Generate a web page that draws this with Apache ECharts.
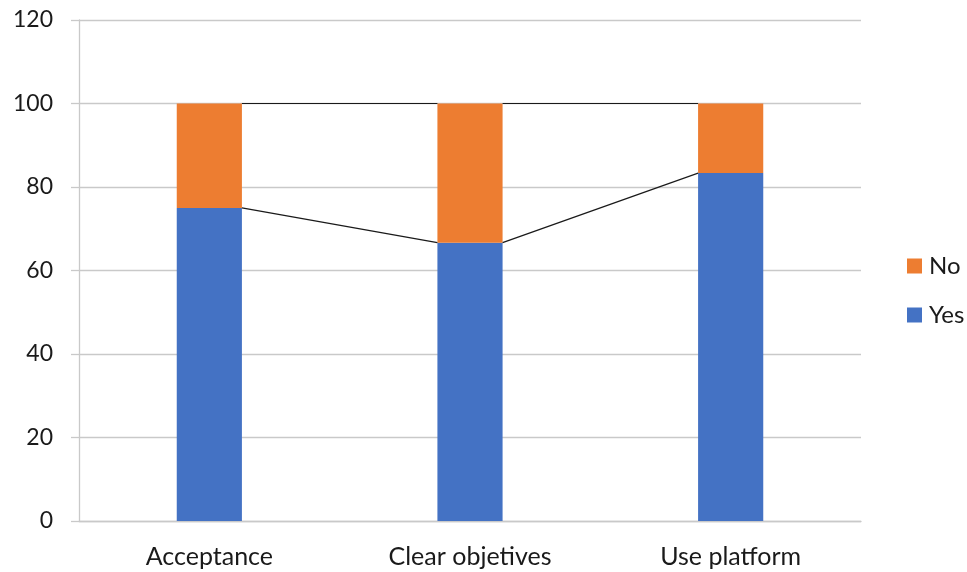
<!DOCTYPE html>
<html>
<head>
<meta charset="utf-8">
<script src="https://cdn.jsdelivr.net/npm/echarts@6/dist/echarts.min.js"></script>
<style>
  html, body { margin: 0; padding: 0; background: #ffffff; }
  #chart { width: 967px; height: 572px; }
</style>
</head>
<body>
<div id="chart"></div>
<script>
const categories = ['Acceptance', 'Clear objetives', 'Use platform'];
const yesValues = [75, 66.67, 83.33];
const noValues = [25, 33.33, 16.67];
const yTicks = [0, 20, 40, 60, 80, 100, 120];

const FONT = 'Lato';
const TEXT = '#1a1a1a';
const GRID = '#c9c9c9';
const BAR_FRACTION = 0.25;

// Stack tops for the connector lines between neighbouring bars
const yesTops = yesValues.slice();
const totalTops = yesValues.map((v, i) => v + noValues[i]);

function connectorData(tops) {
  const out = [];
  for (let i = 0; i < tops.length - 1; i++) out.push([i, tops[i], tops[i + 1]]);
  return out;
}

function renderConnector(params, api) {
  const i = api.value(0);
  const band = api.size([1, 0])[0];
  const half = band * BAR_FRACTION / 2;
  const p0 = api.coord([i, api.value(1)]);
  const p1 = api.coord([i + 1, api.value(2)]);
  return {
    type: 'line',
    shape: { x1: p0[0] + half, y1: p0[1], x2: p1[0] - half, y2: p1[1] },
    style: { stroke: '#1a1a1a', lineWidth: 1.2 }
  };
}

const chart = echarts.init(document.getElementById('chart'), null, { renderer: 'canvas' });
chart.setOption({
  animation: false,
  textStyle: { fontFamily: FONT },
  grid: { left: 79, right: 106, top: 20, bottom: 51, containLabel: false },
  legend: {
    data: ['No', 'Yes'],
    orient: 'vertical',
    left: 902,
    top: 249,
    itemWidth: 15,
    itemHeight: 15,
    itemGap: 25,
    icon: 'rect',
    textStyle: { fontFamily: FONT, fontSize: 24, color: TEXT, padding: [0, 0, 0, 2] }
  },
  xAxis: {
    type: 'category',
    data: categories,
    axisLine: { lineStyle: { color: GRID, width: 1.3 } },
    axisTick: { show: false },
    axisLabel: { fontFamily: FONT, fontSize: 25, color: TEXT, margin: 23 }
  },
  yAxis: {
    type: 'value',
    min: yTicks[0],
    max: yTicks[yTicks.length - 1],
    interval: 20,
    axisLine: { show: true, lineStyle: { color: GRID, width: 1.3 } },
    axisTick: { show: true, length: 8, lineStyle: { color: GRID, width: 1.3 } },
    axisLabel: { fontFamily: FONT, fontSize: 23, color: TEXT, margin: 26 },
    splitLine: { lineStyle: { color: GRID, width: 1.3 } }
  },
  series: [
    {
      name: 'Yes',
      type: 'bar',
      stack: 'total',
      barWidth: (BAR_FRACTION * 100) + '%',
      itemStyle: { color: '#4472C4' },
      data: yesValues
    },
    {
      name: 'No',
      type: 'bar',
      stack: 'total',
      barWidth: (BAR_FRACTION * 100) + '%',
      itemStyle: { color: '#ED7D31' },
      data: noValues
    },
    {
      name: 'yes-connector',
      type: 'custom',
      renderItem: renderConnector,
      data: connectorData(yesTops),
      z: 5,
      silent: true
    },
    {
      name: 'total-connector',
      type: 'custom',
      renderItem: renderConnector,
      data: connectorData(totalTops),
      z: 5,
      silent: true
    }
  ]
});
</script>
</body>
</html>
